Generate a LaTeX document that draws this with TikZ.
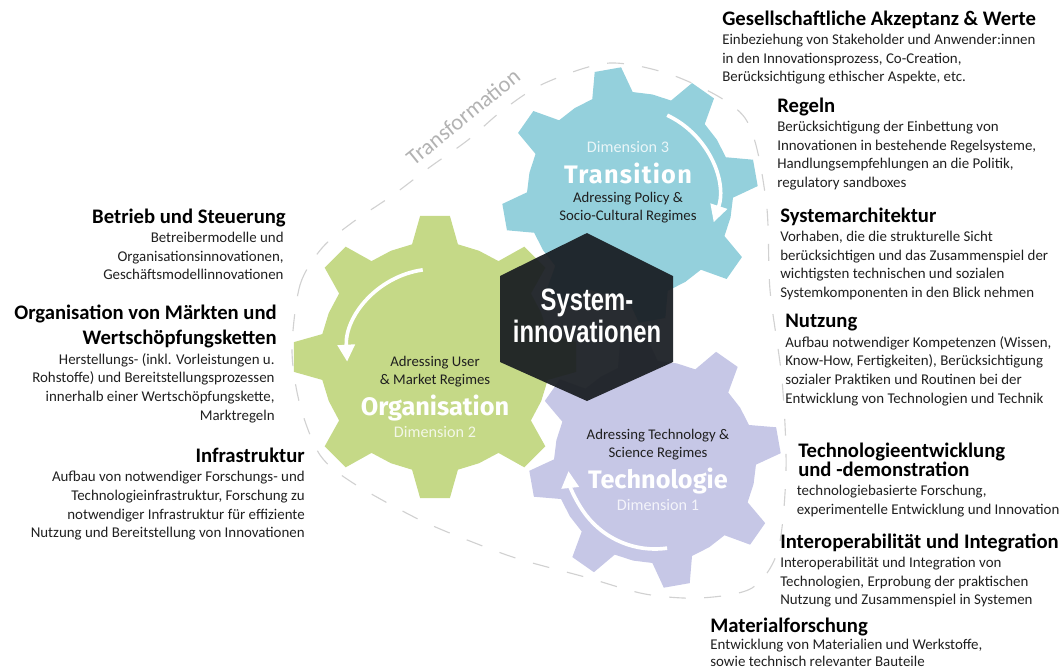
\documentclass[tikz,border=0pt]{standalone}
\usepackage{fontspec}
\usepackage{graphicx}
\setmainfont{Carlito}
\newfontfamily\dinfont{Fira Sans}
\newfontfamily\hexfont{Liberation Sans}
\usetikzlibrary{positioning,arrows.meta}

\definecolor{gearblue}{RGB}{148,208,220}
\definecolor{geargreen}{RGB}{197,217,135}
\definecolor{gearlila}{RGB}{198,199,230}
\definecolor{hexdark}{RGB}{24,28,33}

\newcommand{\gear}[5]{% Mittelpunkt, Fussradius, Kopfradius, Drehung, Farbe
  \fill[#5] ([shift={(#1)}]#4-22.5:#2)
    \foreach \a in {0,45,...,315}{
      -- ([shift={(#1)}]#4+\a-11.5:#2) -- ([shift={(#1)}]#4+\a-6:#3)
      -- ([shift={(#1)}]#4+\a+6:#3) -- ([shift={(#1)}]#4+\a+11.5:#2)
      -- ([shift={(#1)}]#4+\a+22.5:#2)
    } -- cycle;}

\tikzset{
  ring/.style={draw=black!18, line width=0.8pt, dash pattern=on 12pt off 13pt},
  turn/.style={white, line width=2.6pt, -{Triangle[length=12pt,width=12pt]}},
  ttl/.style={font=\fontsize{14.7}{17}\selectfont\bfseries, inner sep=0pt, text depth=0pt},
  txt/.style={font=\fontsize{10.6}{13.2}\selectfont, inner sep=0pt, text=black!88},
  dimname/.style={font=\dinfont\bfseries\fontsize{18}{20}\selectfont, text=white, inner sep=0pt, text depth=0pt},
  dimno/.style={font=\fontsize{11.5}{13}\selectfont, text=white, text opacity=0.8, inner sep=0pt},
  regime/.style={font=\fontsize{10.5}{12.8}\selectfont, text=black!88, align=center, inner sep=0pt},
  hextext/.style={font=\hexfont\bfseries\fontsize{22}{22.8}\selectfont, text=white, align=center, inner sep=0pt}
}

\begin{document}
\begin{tikzpicture}[x=0.025cm, y=-0.025cm]
  \useasboundingbox (0,0) rectangle (1063,671);

  % Transformation
  \draw[ring] plot[smooth cycle] coordinates {(292,350) (300,285) (322,248) (353,222) (393,195)
    (430,167) (468,140) (503,110) (545,83) (610,63) (680,78) (745,118) (766,200) (770,290)
    (782,380) (786,470) (778,550) (752,588) (700,598) (645,594) (585,577) (522,560) (480,545)
    (420,520) (353,483) (320,455) (300,405)};
  \node[font=\fontsize{16}{18}\selectfont, text=black!30, rotate=39] (trafo) at (463,117) {Transformation};

  % 齿轮
  \coordinate (g-org) at (435,357);
  \coordinate (g-tra) at (630,195);
  \coordinate (g-tec) at (655,462);
  \gear{g-org}{115}{142}{0}{geargreen}
  \gear{g-tra}{103}{128}{35}{gearblue}
  \gear{g-tec}{101}{126}{35}{gearlila}

  % 箭头
  \draw[turn] ([shift={(g-tra)}]-65:88) arc[start angle=-65, end angle=18, radius=88];
  \draw[turn] ([shift={(g-org)}]-98:88) arc[start angle=-98, end angle=-183, radius=88];
  \draw[turn] ([shift={(g-tec)}]82:87) arc[start angle=82, end angle=174, radius=87];

  % Sechseck
  \fill[hexdark, fill opacity=0.93] (587,233) -- (673,276) -- (673,362) -- (587,401)
    -- (500,362) -- (500,276) -- cycle;
  \node[hextext] (sys) at (587,316) {\scalebox{0.77}[1]{System-}\\\scalebox{0.77}[1]{innovationen}};

  % Dimension 3
  \node[dimname] (tra) at (628,173) {\addfontfeature{LetterSpace=5}Transition};
  \node[dimno, above=6.5pt of tra] (tra-no) {Dimension 3};
  \node[regime, below=5.9pt of tra] (tra-reg) {Adressing Policy \&\\Socio-Cultural Regimes};
  % Dimension 2
  \node[dimname] (org) at (435,405) {Organisation};
  \node[regime, above=5pt of org] (org-reg) {Adressing User\\\& Market Regimes};
  \node[dimno, below=7.5pt of org] (org-no) {Dimension 2};
  % Dimension 1
  \node[dimname] (tec) at (658,478) {Technologie};
  \node[regime, above=5.3pt of tec] (tec-reg) {Adressing Technology \&\\Science Regimes};
  \node[dimno, below=7.3pt of tec] (tec-no) {Dimension 1};

  % rechts
  \node[ttl, anchor=base west] (akz) at (722,25) {Gesellschaftliche Akzeptanz \& Werte};
  \node[txt, align=left, below right=6.3pt and 0pt of akz.south west] (akz-txt)
    {Einbeziehung von Stakeholder und Anwender:innen\\in den Innovationsprozess, Co-Creation,\\Berücksichtigung ethischer Aspekte, etc.};
  \node[ttl, anchor=base west] (reg) at (777,112) {Regeln};
  \node[txt, align=left, below right=6.3pt and 0pt of reg.south west] (reg-txt)
    {Berücksichtigung der Einbettung von\\Innovationen in bestehende Regelsysteme,\\Handlungsempfehlungen an die Politik,\\regulatory sandboxes};
  \node[ttl, anchor=base west] (arch) at (780,222) {Systemarchitektur};
  \node[txt, align=left, below right=6.3pt and 0pt of arch.south west] (arch-txt)
    {Vorhaben, die die strukturelle Sicht\\berücksichtigen und das Zusammenspiel der\\wichtigsten technischen und sozialen\\Systemkomponenten in den Blick nehmen};
  \node[ttl, anchor=base west] (nutz) at (785,327) {Nutzung};
  \node[txt, align=left, below right=6.3pt and 0pt of nutz.south west] (nutz-txt)
    {Aufbau notwendiger Kompetenzen (Wissen,\\Know-How, Fertigkeiten), Berücksichtigung\\sozialer Praktiken und Routinen bei der\\Entwicklung von Technologien und Technik};
  \node[ttl, anchor=base west] (dev) at (798,457) {Technologieentwicklung};
  \node[ttl, anchor=base west] (dev2) at (798,476) {und -demonstration};
  \node[txt, align=left, below right=6.3pt and -1pt of dev2.south west] (dev-txt)
    {technologiebasierte Forschung,\\experimentelle Entwicklung und Innovation};
  \node[ttl, anchor=base west] (inter) at (780,548) {Interoperabilität und Integration};
  \node[txt, align=left, below right=6.3pt and 0pt of inter.south west] (inter-txt)
    {Interoperabilität und Integration von\\Technologien, Erprobung der praktischen\\Nutzung und Zusammenspiel in Systemen};
  \node[ttl, anchor=base west] (mat) at (710,632) {Materialforschung};
  \node[txt, align=left, below right=5pt and 0pt of mat.south west] (mat-txt)
    {Entwicklung von Materialien und Werkstoffe,\\[-1.5pt]sowie technisch relevanter Bauteile};

  % links
  \node[ttl, anchor=base east] (betr) at (286,223) {Betrieb und Steuerung};
  \node[txt, align=right, below left=6.3pt and 1.5pt of betr.south east] (betr-txt)
    {Betreibermodelle und\\Organisationsinnovationen,\\Geschäftsmodellinnovationen};
  \node[ttl, anchor=base east] (mkt) at (277,319) {Organisation von Märkten und};
  \node[ttl, anchor=base east] (mkt2) at (277,344) {Wertschöpfungsketten};
  \node[txt, align=right, below left=6.3pt and 1.5pt of mkt2.south east] (mkt-txt)
    {Herstellungs- (inkl. Vorleistungen u.\\Rohstoffe) und Bereitstellungsprozessen\\innerhalb einer Wertschöpfungskette,\\Marktregeln};
  \node[ttl, anchor=base east] (infra) at (305,462) {Infrastruktur};
  \node[txt, align=right, below left=6.3pt and 0pt of infra.south east] (infra-txt)
    {Aufbau von notwendiger Forschungs- und\\Technologieinfrastruktur, Forschung zu\\notwendiger Infrastruktur für effiziente\\Nutzung und Bereitstellung von Innovationen};
\end{tikzpicture}
\end{document}
